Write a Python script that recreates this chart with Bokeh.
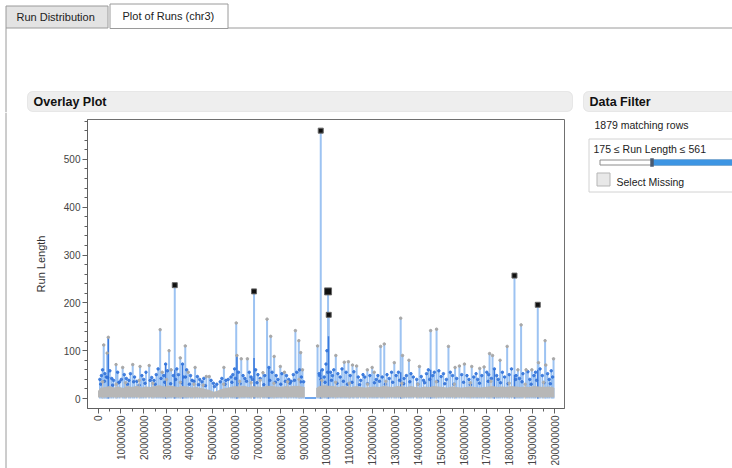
from math import pi
from bokeh.plotting import figure
from bokeh.layouts import column, row
from bokeh.models import Range1d, FixedTicker, BoxAnnotation
from bokeh.core.properties import value
from bokeh.embed import file_html
from bokeh.resources import INLINE

FONT = value("Liberation Sans")

# ---------------- data (positions in Mb, run length) ----------------
# tall needles
tall_pos = [2.5, 4.0, 4.5, 7.9, 10.8, 15.2, 18.4, 22.4, 27.2, 28.1, 31.1, 32.0, 33.6, 36.0, 38.2,
            39.5, 42.5, 47.4, 48.7, 55.1, 60.5, 60.8, 62.7, 65.4, 68.3, 72.2, 74.0, 75.6, 77.1,
            79.8, 81.6, 86.4, 87.9, 88.7, 89.5,
            96.1, 97.5, 100.7, 101.0, 104.1, 107.8, 109.6, 111.4, 113.2, 117.9, 120.0, 120.9,
            123.7, 125.3, 129.7, 132.5, 133.3, 136.1, 140.7, 145.6, 148.2, 153.4, 156.3, 158.2,
            160.4, 163.6, 167.1, 169.0, 171.4, 172.7, 176.0, 179.1, 182.3, 183.8, 185.2, 187.4,
            189.9, 192.5, 192.8, 195.7, 196.0, 199.4]
tall_len = [112, 95, 128, 71, 65, 71, 67, 69, 144, 55, 100, 60, 237, 85, 110,
            55, 65, 46, 46, 65, 158, 90, 83, 83, 224, 54, 166, 130, 88,
            67, 55, 142, 121, 96, 60,
            110, 560, 224, 175, 90, 76, 77, 70, 68, 60, 65, 55,
            109, 114, 75, 168, 90, 80, 67, 142, 145, 109, 65, 68,
            72, 67, 63, 66, 94, 90, 80, 109, 257, 60, 154, 60,
            60, 196, 75, 121, 70, 83]

# short needles in the dense band
short_pos = [0.8, 1.5, 2.0, 3.0, 3.6, 5.2, 6.0, 6.8, 8.6, 9.5, 11.5, 12.4, 13.5, 14.2, 16.0, 17.0,
             19.2, 20.0, 21.0, 23.5, 24.5, 25.5, 26.3, 28.8, 29.6, 30.4, 33.0, 34.5, 35.2, 37.0,
             37.5, 38.8, 40.5, 41.2, 43.5, 44.5, 45.5, 46.3, 49.5, 50.5, 52.0, 53.5, 54.2, 56.0,
             57.0, 58.2, 59.0, 59.8, 61.5, 63.5, 64.3, 66.2, 67.0, 69.0, 70.0, 71.0, 73.0, 74.8,
             76.2, 78.0, 78.8, 80.5, 82.5, 83.5, 84.5, 85.5, 87.0, 88.2, 89.0, 90.0,
             96.8, 97.0, 98.2, 99.0, 99.8, 100.2, 101.8, 102.6, 103.2, 105.0, 106.0, 106.8, 108.6,
             110.4, 112.0, 113.9, 115.0, 116.0, 116.8, 119.0, 121.8, 122.5, 124.4, 126.5, 127.5,
             128.5, 130.5, 131.5, 134.0, 135.0, 137.0, 138.0, 139.5, 141.5, 142.5, 143.8, 144.6,
             146.5, 147.2, 149.2, 150.2, 151.2, 152.5, 154.2, 155.2, 157.0, 159.2, 161.5, 162.4,
             164.5, 165.5, 166.2, 168.0, 170.2, 171.0, 173.5, 174.5, 175.2, 177.0, 178.0, 180.0,
             181.0, 183.0, 184.5, 186.0, 188.2, 189.0, 190.8, 191.5, 193.5, 194.5, 196.8, 197.5,
             198.4, 199.0]
short_len = [40, 48, 60, 52, 45, 58, 42, 38, 55, 35, 50, 42, 38, 52, 45, 36,
             48, 40, 55, 44, 38, 50, 62, 48, 72, 58, 48, 62, 50, 72,
             45, 60, 48, 38, 46, 40, 35, 42, 38, 32, 30, 35, 42, 38,
             40, 45, 50, 62, 55, 48, 42, 55, 45, 60, 50, 42, 48, 65,
             55, 48, 40, 52, 48, 40, 36, 50, 55, 60, 45, 35,
             52, 48, 60, 45, 72, 100, 55, 48, 60, 52, 45, 62, 55,
             48, 56, 45, 38, 50, 45, 48, 40, 48, 45, 50, 42,
             55, 48, 55, 42, 48, 52, 45, 40, 46, 38, 52, 60,
             48, 55, 58, 46, 52, 40, 55, 48, 42, 50, 48, 40,
             45, 52, 40, 48, 55, 50, 62, 48, 40, 55, 45, 50,
             62, 48, 42, 52, 56, 40, 48, 55, 62, 48, 52, 40,
             58, 45]

# extra blue points inside the dense band
bdot_pos = [1.2, 2.8, 4.2, 6.4, 9.0, 10.2, 12.9, 15.6, 18.0, 20.6, 22.8, 25.0, 27.6, 29.2, 31.8,
            34.0, 36.5, 38.3, 40.0, 42.0, 44.0, 47.0, 51.0, 55.6, 58.6, 60.2, 62.2, 65.0, 67.6,
            69.6, 72.6, 75.2, 77.6, 80.0, 82.0, 84.0, 86.0, 88.6,
            97.6, 99.4, 100.5, 102.2, 104.6, 107.4, 109.2, 111.2, 114.5, 118.0, 121.0, 123.2,
            125.8, 129.0, 132.0, 133.8, 136.5, 140.0, 143.0, 145.2, 148.6, 151.8, 155.8, 160.0,
            163.0, 167.0, 170.8, 172.2, 176.2, 179.5, 182.8, 185.6, 189.6, 192.0, 195.2, 198.0]
bdot_len = [30, 36, 44, 28, 33, 40, 30, 35, 28, 32, 38, 30, 42, 34, 31,
            40, 33, 45, 30, 36, 29, 27, 25, 30, 34, 42, 31, 36, 40,
            33, 29, 38, 34, 30, 36, 32, 38, 35,
            40, 34, 55, 38, 32, 36, 30, 34, 29, 31, 33, 36,
            30, 34, 38, 31, 35, 30, 33, 40, 36, 31, 30, 34,
            29, 32, 36, 42, 33, 31, 40, 35, 30, 38, 33, 31]

# darker blue needle cores
dark_pos = [4.5, 29.6, 33.6, 37.0, 60.8, 68.3, 74.8, 97.5, 100.9, 132.5, 145.6, 182.3, 192.5, 173.5]
dark_len = [128, 72, 60, 72, 90, 85, 65, 60, 130, 55, 60, 50, 60, 62]

# gray band (upper edge) for both chromosome arms
gray_left_pos = [0, 1, 3, 5, 7, 9, 11, 13, 15, 17, 19, 21, 23, 25, 27, 29, 31, 33, 35, 37, 39, 41,
                 43, 45, 47, 49, 50.5, 52, 54, 56, 58, 60, 62, 64, 66, 68, 70, 72, 74, 76, 78, 80,
                 82, 84, 86, 88, 90.5]
gray_left_top = [16, 22, 24, 26, 23, 25, 22, 26, 24, 27, 23, 25, 24, 26, 28, 25, 27, 26, 24, 26, 25, 23,
                 24, 22, 20, 18, 14, 16, 20, 22, 24, 26, 25, 27, 24, 26, 25, 24, 27, 26, 25, 24,
                 26, 25, 27, 26, 24]
gray_right_pos = [95.5, 97, 99, 101, 103, 105, 107, 109, 111, 113, 115, 117, 119, 121, 123, 125, 127,
                  129, 131, 133, 135, 137, 139, 141, 143, 145, 147, 149, 151, 153, 155, 157, 159, 161,
                  163, 165, 167, 169, 171, 173, 175, 177, 179, 181, 183, 185, 187, 189, 191, 193, 195,
                  197, 199, 199.8]
gray_right_top = [22, 26, 28, 27, 26, 24, 26, 25, 24, 26, 24, 23, 24, 25, 24, 26, 25,
                  24, 26, 25, 24, 26, 24, 23, 25, 24, 26, 25, 24, 23, 25, 24, 23, 24,
                  25, 24, 23, 24, 25, 26, 24, 25, 24, 26, 25, 24, 25, 24, 26, 25, 24,
                  25, 24, 22]
gray_base = 2

# gray spikes above the band
gspike_pos = [2, 8, 12, 18, 24, 30, 36, 42, 46, 55, 62, 67, 71, 77, 83, 88, 98, 104, 110, 118, 126,
              133, 140, 148, 156, 163, 172, 180, 187, 195]
gspike_len = [35, 30, 33, 38, 32, 40, 34, 30, 28, 30, 36, 33, 38, 32, 35, 40, 38, 34, 32, 30, 36,
              32, 30, 35, 30, 33, 36, 32, 30, 34]

# centromere gap
gap_start, gap_end, gap_len = 90.5, 95.5, 1

# selected rows (175 <= Run Length <= 561)
sel_pos = [33.6, 68.3, 97.5, 100.7, 101.0, 182.3, 192.5]
sel_len = [237, 224, 560, 224, 175, 257, 196]
sel_size = [5, 5, 5, 7, 5, 5, 5]

x_ticks = [0, 10000000, 20000000, 30000000, 40000000, 50000000, 60000000, 70000000, 80000000,
           90000000, 100000000, 110000000, 120000000, 130000000, 140000000, 150000000, 160000000,
           170000000, 180000000, 190000000, 200000000]
x_tick_labels = ["0", "10000000", "20000000", "30000000", "40000000", "50000000", "60000000",
                 "70000000", "80000000", "90000000", "100000000", "110000000", "120000000",
                 "130000000", "140000000", "150000000", "160000000", "170000000", "180000000",
                 "190000000", "200000000"]
y_ticks = [0, 100, 200, 300, 400, 500]

tab_labels = ["Run Distribution", "Plot of Runs (chr3)"]
header_labels = ["Overlay Plot", "Data Filter"]
filter_count = "1879 matching rows"
filter_range = "175 \u2264 Run Length \u2264 561"
filter_missing = "Select Missing"

MB = 1e6
BORDER = "#9a9a9a"

# ---------------- top strip: tabs & section headers ----------------
top = figure(width=732, height=112, x_range=Range1d(0, 732), y_range=Range1d(112, 0),
             toolbar_location=None, output_backend="svg", min_border=0, frame_align=False)
top.axis.visible = False
top.grid.visible = False
top.outline_line_color = None
top.background_fill_color = "white"
top.border_fill_color = "white"

top.quad(left=[5.5], right=[107.5], top=[5.5], bottom=[27.5], fill_color="#e3e3e3",
         line_color=BORDER, line_width=1)
top.quad(left=[109.5], right=[227.5], top=[3.5], bottom=[28], fill_color="white",
         line_color=BORDER, line_width=1)
top.segment(x0=[227.5], y0=[27.5], x1=[732], y1=[27.5], line_color=BORDER, line_width=1)
top.segment(x0=[5.5], y0=[27.5], x1=[5.5], y1=[112], line_color=BORDER, line_width=1)
top.text(x=[16, 122], y=[16, 15], text=tab_labels, text_font=FONT, text_font_size="11px",
         text_baseline="middle", text_color="#222222")

top.add_layout(BoxAnnotation(left=27, right=572, top=91, bottom=111, fill_color="#eeeeee",
                             fill_alpha=1, line_color="#c4c4c4", line_width=1, border_radius=5,
                             level="underlay"))
top.add_layout(BoxAnnotation(left=583, right=745, top=91, bottom=111, fill_color="#eeeeee",
                             fill_alpha=1, line_color="#c4c4c4", line_width=1, border_radius=5,
                             level="underlay"))
top.text(x=[33, 589], y=[101, 101], text=header_labels, text_font=FONT, text_font_size="12.5px",
         text_font_style="bold", text_baseline="middle", text_color="#111111")

# ---------------- left window border ----------------
strip = figure(width=27, height=356, x_range=Range1d(0, 27), y_range=Range1d(468, 112),
               toolbar_location=None, output_backend="svg", min_border=0, frame_align=False)
strip.axis.visible = False
strip.grid.visible = False
strip.outline_line_color = None
strip.segment(x0=[5.5], y0=[112], x1=[5.5], y1=[468], line_color=BORDER, line_width=1)

# ---------------- chart ----------------
p = figure(width=551, height=356, x_range=Range1d(-4.6e6, 204.2e6), y_range=Range1d(-20.8, 583.3),
           toolbar_location=None, output_backend="svg", frame_align=False,
           min_border_left=60, min_border_right=14, min_border_top=7, min_border_bottom=59)
p.grid.visible = False
p.outline_line_color = "#707070"
p.background_fill_color = "white"
p.border_fill_color = "white"

sx = [v * MB for v in short_pos]
p.segment(x0=sx, y0=[0] * len(sx), x1=sx, y1=short_len, line_color="#93bdf1", line_width=1.6)
tx = [v * MB for v in tall_pos]
p.segment(x0=tx, y0=[0] * len(tx), x1=tx, y1=tall_len, line_color="#9dc3f2", line_width=2)
dx = [v * MB for v in dark_pos]
p.segment(x0=dx, y0=[0] * len(dx), x1=dx, y1=dark_len, line_color="#3a7ade", line_width=1.5)
p.scatter(sx, short_len, size=2.5, color="#3374da", alpha=0.9)
p.scatter([v * MB for v in bdot_pos], bdot_len, size=2.5, color="#2f6fd6", alpha=0.85)
p.scatter(tx, tall_len, size=2.5, color="#a8a8a8")

gx = [v * MB for v in gspike_pos]
p.segment(x0=gx, y0=[0] * len(gx), x1=gx, y1=gspike_len, line_color="#c4c4c4", line_width=1.2)
p.scatter(gx, gspike_len, size=2.5, color="#b0b0b0")

p.varea(x=[v * MB for v in gray_left_pos], y1=[gray_base] * len(gray_left_pos), y2=gray_left_top,
        fill_color="#b7b7b7")
p.varea(x=[v * MB for v in gray_right_pos], y1=[gray_base] * len(gray_right_pos), y2=gray_right_top,
        fill_color="#b7b7b7")
p.segment(x0=[gap_start * MB], y0=[gap_len], x1=[gap_end * MB], y1=[gap_len],
          line_color="#6ea6ee", line_width=2)

p.scatter([v * MB for v in sel_pos], sel_len, marker="square", size=sel_size,
          fill_color="#111111", line_color="#666666", line_width=1)

p.xaxis.ticker = FixedTicker(ticks=x_ticks, minor_ticks=[5000000 + 10000000 * i for i in range(20)])
p.xaxis.major_label_overrides = dict(zip(x_ticks, x_tick_labels))
p.xaxis.major_label_orientation = pi / 2
p.xaxis.major_label_standoff = 2
p.yaxis.ticker = FixedTicker(ticks=y_ticks, minor_ticks=[20 * i for i in range(1, 30)])
p.yaxis.major_label_standoff = 2
p.yaxis.axis_label = "Run Length"
p.yaxis.axis_label_standoff = 14
for ax in (p.xaxis[0], p.yaxis[0]):
    ax.axis_line_color = "#606060"
    ax.major_tick_line_color = "#606060"
    ax.minor_tick_line_color = "#606060"
    ax.major_tick_out = 5
    ax.major_tick_in = 0
    ax.minor_tick_out = 3
    ax.minor_tick_in = 0
    ax.major_label_text_font = "Liberation Sans"
    ax.major_label_text_font_size = "10px"
    ax.major_label_text_color = "#444444"
    ax.axis_label_text_font = "Liberation Sans"
    ax.axis_label_text_font_size = "11px"
    ax.axis_label_text_font_style = "normal"
    ax.axis_label_text_color = "#333333"

# ---------------- data filter panel ----------------
flt = figure(width=154, height=356, x_range=Range1d(578, 732), y_range=Range1d(468, 112),
             toolbar_location=None, output_backend="svg", min_border=0, frame_align=False)
flt.axis.visible = False
flt.grid.visible = False
flt.outline_line_color = None
flt.text(x=[594], y=[124.5], text=[filter_count], text_font=FONT, text_font_size="10.5px",
         text_baseline="middle", text_color="#222222")
flt.quad(left=[588.5], right=[745], top=[138.5], bottom=[191.5], fill_color="white",
         line_color="#d2d2d2", line_width=1)
flt.text(x=[593], y=[148.5], text=[filter_range], text_font=FONT, text_font_size="10.5px",
         text_baseline="middle", text_color="#222222")
flt.quad(left=[599.5], right=[745], top=[159.5], bottom=[164.5], fill_color="white",
         line_color="#8c8c8c", line_width=1)
flt.quad(left=[652], right=[745], top=[159.5], bottom=[164.5], fill_color="#3d95e3",
         line_color="#3d95e3", line_width=1)
flt.quad(left=[650], right=[653], top=[158], bottom=[166], fill_color="#4a5a70",
         line_color="#4a5a70", line_width=0.5)
flt.quad(left=[596.5], right=[609.5], top=[172.5], bottom=[185.5], fill_color="#e8e8e8",
         line_color="#b5b5b5", line_width=1)
flt.text(x=[616], y=[181], text=[filter_missing], text_font=FONT, text_font_size="10.5px",
         text_baseline="middle", text_color="#222222")

layout = column(top, row(strip, p, flt, spacing=0), spacing=0)
open("out.html", "w").write(file_html(layout, INLINE))
